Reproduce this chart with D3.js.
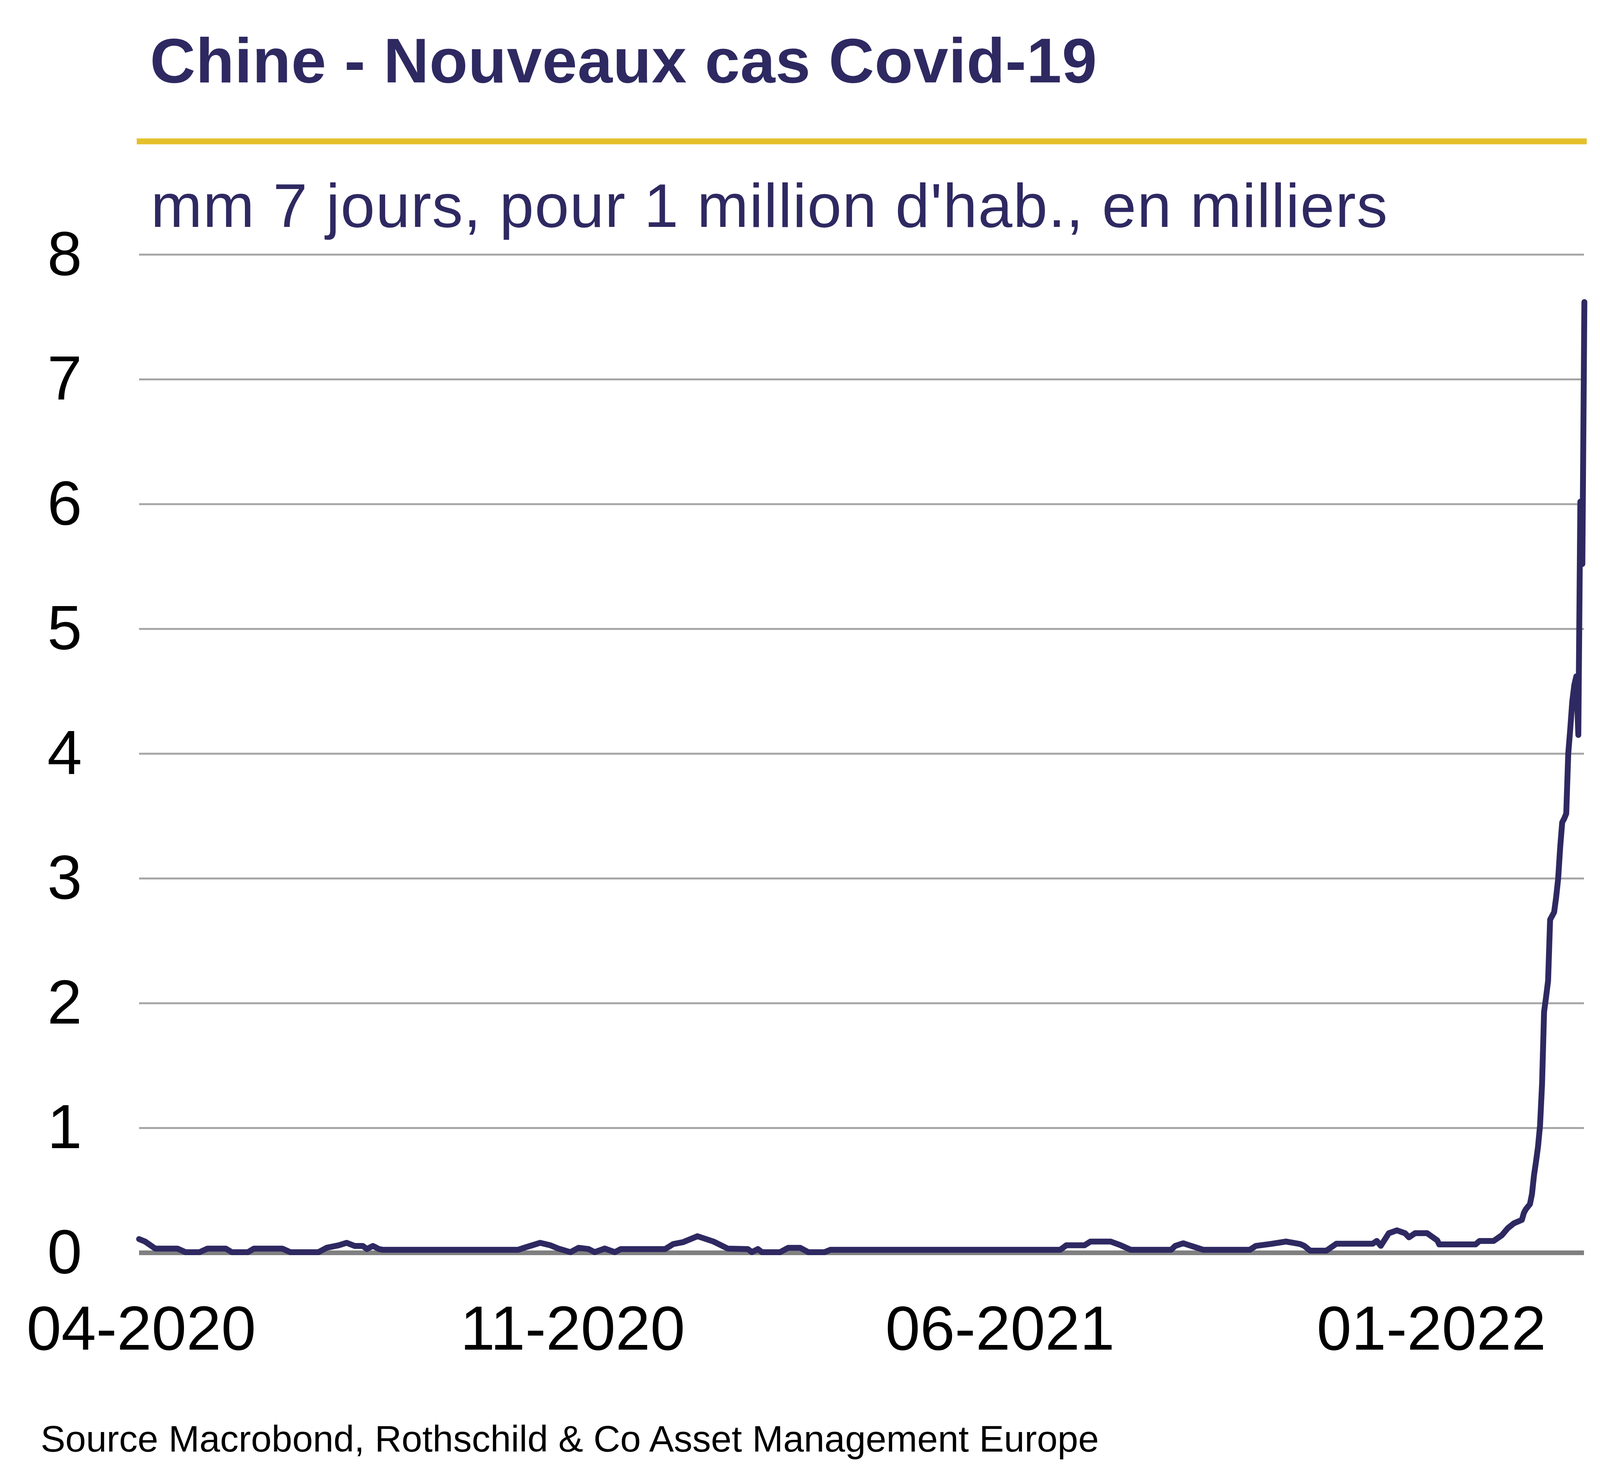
<!DOCTYPE html>
<html>
<head>
<meta charset="utf-8">
<script src="https://cdn.jsdelivr.net/npm/d3@7"></script>
<style>
  body { margin: 0; background: #fff; }
  text { font-family: "Liberation Sans", Arial, sans-serif; }
</style>
</head>
<body>
<div id="chart"></div>
<script>
// 7-day moving average of new cases per 1 million inhabitants, in thousands
var caseDates = [
  "2020-03-31", "2020-04-03", "2020-04-08", "2020-04-19", "2020-04-23", "2020-04-30",
  "2020-05-04", "2020-05-13", "2020-05-16", "2020-05-24", "2020-05-27", "2020-06-10",
  "2020-06-14", "2020-06-28", "2020-07-02", "2020-07-08", "2020-07-12", "2020-07-16",
  "2020-07-20", "2020-07-22", "2020-07-25", "2020-07-28", "2020-07-30", "2020-10-05",
  "2020-10-08", "2020-10-13", "2020-10-16", "2020-10-21", "2020-10-25", "2020-10-31",
  "2020-11-04", "2020-11-09", "2020-11-12", "2020-11-17", "2020-11-22", "2020-11-25",
  "2020-12-17", "2020-12-21", "2020-12-26", "2021-01-02", "2021-01-10", "2021-01-17",
  "2021-01-27", "2021-01-29", "2021-02-01", "2021-02-03", "2021-02-12", "2021-02-16",
  "2021-02-22", "2021-02-26", "2021-03-06", "2021-03-09", "2021-07-01", "2021-07-04",
  "2021-07-13", "2021-07-16", "2021-07-26", "2021-07-31", "2021-08-05", "2021-08-25",
  "2021-08-27", "2021-08-31", "2021-09-04", "2021-09-10", "2021-10-03", "2021-10-06",
  "2021-10-13", "2021-10-21", "2021-10-28", "2021-10-30", "2021-11-02", "2021-11-10",
  "2021-11-15", "2021-12-03", "2021-12-05", "2021-12-07", "2021-12-11", "2021-12-15",
  "2021-12-19", "2021-12-21", "2021-12-24", "2021-12-30", "2022-01-04", "2022-01-05",
  "2022-01-23", "2022-01-25", "2022-02-01", "2022-02-05", "2022-02-08", "2022-02-11",
  "2022-02-15", "2022-02-16", "2022-02-17", "2022-02-18", "2022-02-19", "2022-02-20",
  "2022-02-21", "2022-02-22", "2022-02-23", "2022-02-24", "2022-02-25", "2022-02-26",
  "2022-02-27", "2022-02-28", "2022-03-01", "2022-03-02", "2022-03-03", "2022-03-04",
  "2022-03-05", "2022-03-06", "2022-03-07", "2022-03-08", "2022-03-09", "2022-03-10",
  "2022-03-11", "2022-03-12", "2022-03-13", "2022-03-14", "2022-03-15", "2022-03-16",
  "2022-03-17", "2022-03-18"
];
var caseValues = [
  0.11, 0.09, 0.034, 0.034, 0.005, 0.005,
  0.034, 0.034, 0.005, 0.005, 0.034, 0.034,
  0.005, 0.005, 0.04, 0.06, 0.08, 0.055,
  0.055, 0.03, 0.055, 0.03, 0.024, 0.024,
  0.04, 0.065, 0.08, 0.06, 0.034, 0.005,
  0.04, 0.03, 0.005, 0.034, 0.005, 0.03,
  0.03, 0.07, 0.086, 0.133, 0.09, 0.034,
  0.03, 0.005, 0.03, 0.005, 0.005, 0.04,
  0.04, 0.005, 0.005, 0.024, 0.024, 0.06,
  0.06, 0.09, 0.09, 0.06, 0.024, 0.024,
  0.055, 0.076, 0.055, 0.024, 0.024, 0.055,
  0.07, 0.09, 0.07, 0.056, 0.017, 0.017,
  0.073, 0.073, 0.095, 0.056, 0.157, 0.18,
  0.157, 0.124, 0.157, 0.157, 0.10, 0.067,
  0.067, 0.095, 0.095, 0.14, 0.197, 0.236,
  0.264, 0.32, 0.35, 0.37, 0.39, 0.47,
  0.62, 0.73, 0.85, 1.02, 1.35, 1.93,
  2.05, 2.18, 2.67, 2.70, 2.73, 2.85,
  3.0, 3.25, 3.45, 3.48, 3.52, 4.0,
  4.2, 4.42, 4.55, 4.62, 4.15, 6.02,
  5.52, 7.62
];
var yTicks = [0, 1, 2, 3, 4, 5, 6, 7, 8];
var xTickDates = ["2020-04-01", "2020-11-01", "2021-06-01", "2022-01-01"];
var xDomain = ["2020-03-31", "2022-03-18"];

var titleText = "Chine - Nouveaux cas Covid-19";
var subtitleText = "mm 7 jours, pour 1 million d'hab., en milliers";
var sourceText = "Source Macrobond, Rothschild & Co Asset Management Europe";

var W = 4224, H = 3777;
var plot = { left: 356, right: 4056, top: 652, bottom: 3208 };
var navy = "#2e2961";

var parse = d3.utcParse("%Y-%m-%d");
var data = caseDates.map(function (d, i) { return { date: parse(d), value: caseValues[i] }; });

var svg = d3.select("#chart").append("svg")
  .attr("width", W).attr("height", H)
  .attr("viewBox", [0, 0, W, H]);

svg.append("rect").attr("width", W).attr("height", H).attr("fill", "#fff");

var x = d3.scaleUtc().domain(xDomain.map(parse)).range([plot.left, plot.right]);
var y = d3.scaleLinear().domain([0, 8]).range([plot.bottom, plot.top]);

// title block
svg.append("text")
  .attr("x", 384).attr("y", 211)
  .attr("font-size", 161).attr("font-weight", "bold")
  .attr("fill", navy)
  .attr("textLength", 2424).attr("lengthAdjust", "spacing")
  .text(titleText);

svg.append("line")
  .attr("x1", 350).attr("x2", 4062)
  .attr("y1", 362).attr("y2", 362)
  .attr("stroke", "#e5c02b").attr("stroke-width", 15);

svg.append("text")
  .attr("x", 386).attr("y", 581)
  .attr("font-size", 158)
  .attr("fill", navy)
  .attr("textLength", 3166).attr("lengthAdjust", "spacing")
  .text(subtitleText);

// grid
svg.append("g")
  .selectAll("line")
  .data(yTicks.filter(function (t) { return t > 0; }))
  .join("line")
  .attr("x1", plot.left).attr("x2", plot.right - 1)
  .attr("y1", function (d) { return y(d); })
  .attr("y2", function (d) { return y(d); })
  .attr("stroke", "#a6a6a6").attr("stroke-width", 5);

svg.append("line")
  .attr("x1", plot.left).attr("x2", plot.right - 1)
  .attr("y1", y(0)).attr("y2", y(0))
  .attr("stroke", "#808080").attr("stroke-width", 12);

// axes
var yAxis = svg.append("g")
  .attr("transform", "translate(" + plot.left + ",0)")
  .call(d3.axisLeft(y).tickValues(yTicks).tickSize(0).tickPadding(146).tickFormat(d3.format("d")));
yAxis.select(".domain").remove();
yAxis.selectAll("text")
  .attr("font-size", 160).attr("fill", "#000")
  .style("font-family", "'Liberation Sans', Arial, sans-serif");

var xAxis = svg.append("g")
  .attr("transform", "translate(0," + plot.bottom + ")")
  .call(d3.axisBottom(x).tickValues(xTickDates.map(parse)).tickSize(0).tickFormat(d3.utcFormat("%m-%Y")));
xAxis.select(".domain").remove();
xAxis.selectAll("text")
  .attr("y", 248).attr("dy", null)
  .attr("font-size", 160).attr("fill", "#000")
  .style("font-family", "'Liberation Sans', Arial, sans-serif");

// series
var line = d3.line()
  .x(function (d) { return x(d.date); })
  .y(function (d) { return y(d.value); });

svg.append("path")
  .datum(data)
  .attr("d", line)
  .attr("fill", "none")
  .attr("stroke", navy)
  .attr("stroke-width", 15)
  .attr("stroke-linejoin", "round")
  .attr("stroke-linecap", "round");

svg.append("text")
  .attr("x", 104).attr("y", 3717)
  .attr("font-size", 95)
  .attr("fill", "#000")
  .text(sourceText);
</script>
</body>
</html>
